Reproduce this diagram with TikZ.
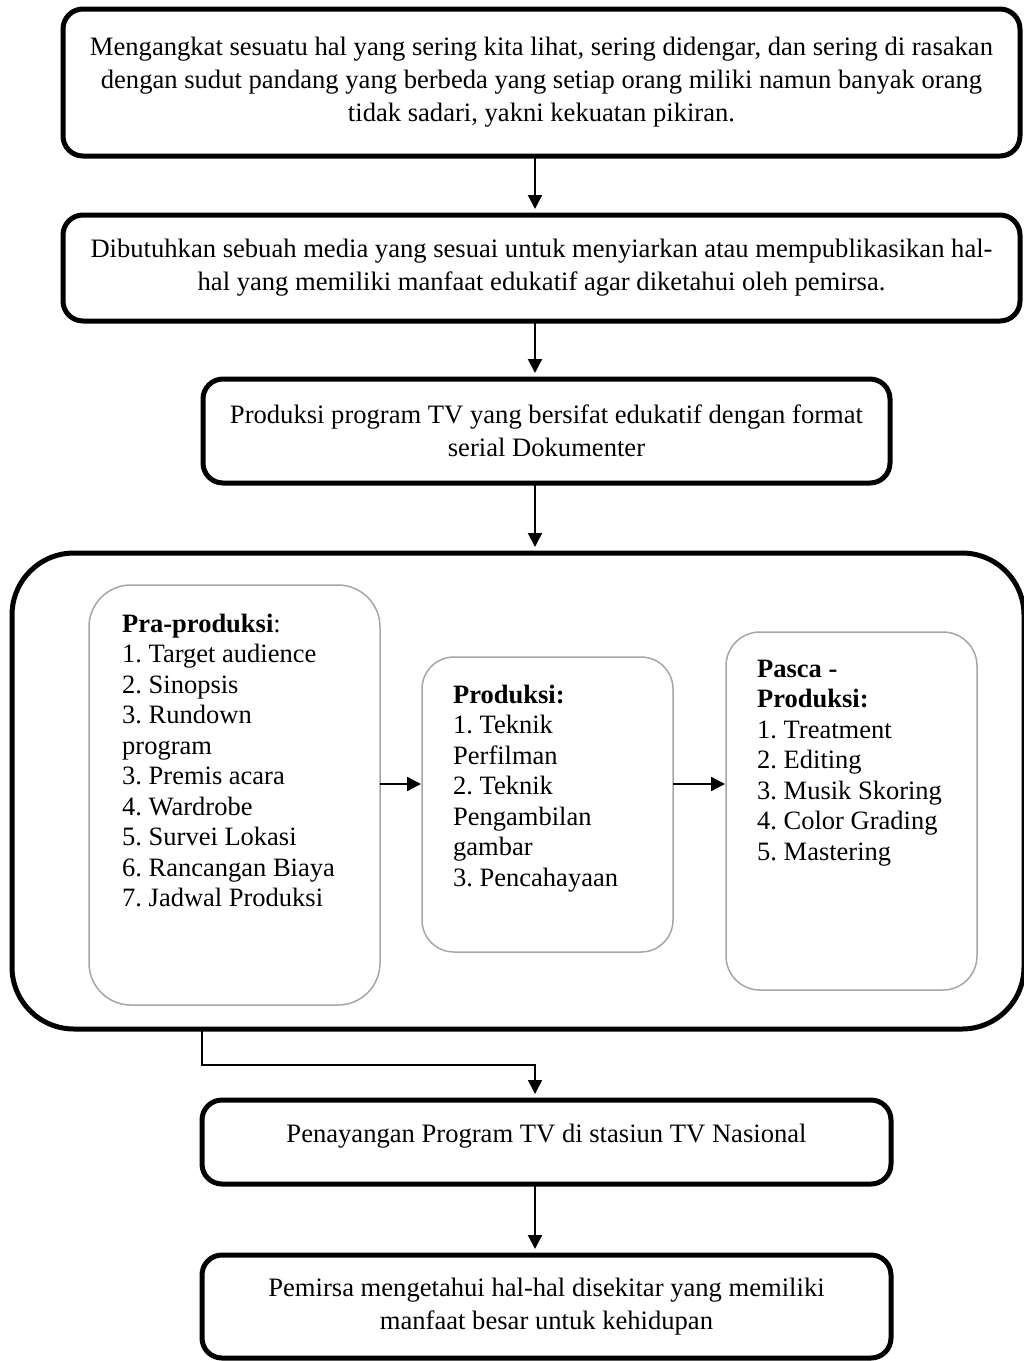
\documentclass[tikz,border=0pt]{standalone}
\usepackage{fontspec}
\setmainfont{Liberation Serif}
\usetikzlibrary{arrows.meta,positioning,calc}
\begin{document}
\frenchspacing
\begin{tikzpicture}[x=1pt,y=-1pt,
  mainbox/.style={draw=black,line width=5pt,rounded corners=20pt,outer sep=0pt,inner sep=0pt,anchor=north west,
    align=center,font=\fontsize{26.6}{33}\selectfont},
  bigframe/.style={draw=black,line width=5pt,rounded corners=62pt,outer sep=0pt,anchor=north west},
  subbox/.style={draw=black!35,line width=1.5pt,rounded corners=38pt,outer sep=0pt,anchor=north west},
  listtext/.style={anchor=north west,inner sep=0pt,align=left,font=\fontsize{26.5}{30.5}\selectfont},
  flow/.style={line width=2pt,-{Triangle[length=14pt,width=14pt]},shorten >=6pt},
  thinflow/.style={line width=1.5pt,-{Triangle[length=14pt,width=14pt]},shorten >=6pt}
]
\useasboundingbox (0,0) rectangle (1024,1361);
\clip (0,0) rectangle (1024,1361);
\fill[white] (0,0) rectangle (1024,1361);

% main boxes
\node[mainbox,minimum width=957pt,minimum height=147pt] (b1) at (63,9)
  {Mengangkat sesuatu hal yang sering kita lihat, sering didengar, dan sering di rasakan\\
   dengan sudut pandang yang berbeda yang setiap orang miliki namun banyak orang\\
   tidak sadari, yakni kekuatan pikiran.};
\node[mainbox,minimum width=957pt,minimum height=106pt] (b2) at (63,215)
  {Dibutuhkan sebuah media yang sesuai untuk menyiarkan atau mempublikasikan hal-\\
   hal yang memiliki manfaat edukatif agar diketahui oleh pemirsa.};
\node[mainbox,minimum width=687pt,minimum height=104pt] (b3) at (203,379)
  {Produksi program TV yang bersifat edukatif dengan format\\ serial Dokumenter};

\node[bigframe,minimum width=1012pt,minimum height=476pt] (big) at (12,553) {};

\node[mainbox,minimum width=689pt,minimum height=84pt,text depth=18pt] (b4) at (202,1100)
  {Penayangan Program TV di stasiun TV Nasional};
\node[mainbox,minimum width=689pt,minimum height=103pt] (b5) at (202,1255)
  {Pemirsa mengetahui hal-hal disekitar yang memiliki\\ manfaat besar untuk kehidupan};

% inner boxes
\node[subbox,minimum width=291pt,minimum height=420pt,rounded corners=42pt] (pra) at (89,585) {};
\node[subbox,minimum width=251pt,minimum height=295pt,rounded corners=32pt] (prod) at (422,657) {};
\node[subbox,minimum width=251pt,minimum height=358pt,rounded corners=34pt] (pasca) at (726,632) {};

\node[listtext] (tpra) at (122,610.6)
  {\strut\textbf{Pra-produksi}:\\ 1. Target audience\\ 2. Sinopsis\\ 3. Rundown\\ program\\ 3. Premis acara\\
   4. Wardrobe\\ 5. Survei Lokasi\\ 6. Rancangan Biaya\\ 7. Jadwal Produksi};
\node[listtext] (tprod) at (453,681.6)
  {\strut\textbf{Produksi:}\\ 1. Teknik\\ Perfilman\\ 2. Teknik\\ Pengambilan\\ gambar\\ 3. Pencahayaan};
\node[listtext] (tpasca) at (757,655.6)
  {\strut\textbf{Pasca -}\\ \textbf{Produksi:}\\ 1. Treatment\\ 2. Editing\\ 3. Musik Skoring\\ 4. Color Grading\\ 5. Mastering};

% connectors
\coordinate (ax) at (535,0);
\draw[flow] (b1.south -| ax) -- (b2.north -| ax);
\draw[flow] (b2.south -| ax) -- (b3.north -| ax);
\draw[flow] (b3.south -| ax) -- (big.north -| ax);
\coordinate (ay) at (0,784);
\draw[flow,shorten >=1pt] (pra.east |- ay) -- (prod.west |- ay);
\draw[flow,shorten >=1pt] (prod.east |- ay) -- (pasca.west |- ay);
\coordinate (cx) at (202,0);
\coordinate (cy) at (0,1065);
\draw[thinflow] (big.south -| cx) -- (cx |- cy) -- (ax |- cy) -- (b4.north -| ax);
\draw[flow] (b4.south -| ax) -- (b5.north -| ax);
\end{tikzpicture}
\end{document}
